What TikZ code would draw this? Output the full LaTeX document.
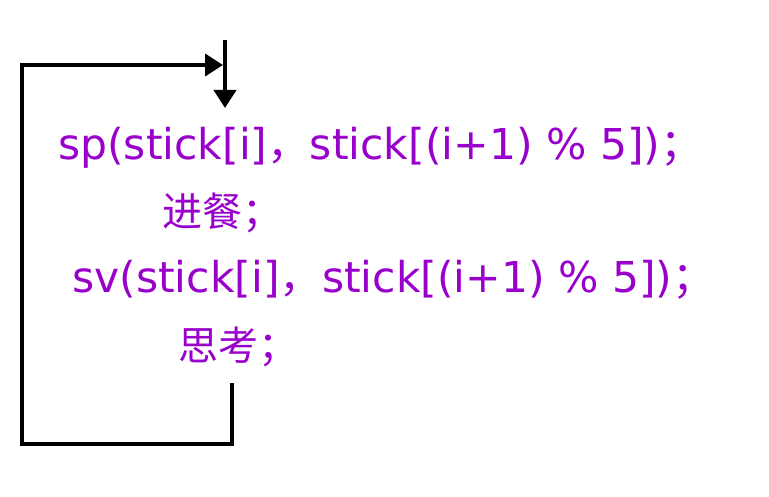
\documentclass[tikz,border=0pt]{standalone}
\usepackage{fontspec}
\setmainfont{DejaVu Sans}
\newfontfamily\cjk{Noto Sans CJK SC}
\usetikzlibrary{arrows.meta}
\definecolor{codepurple}{RGB}{153,0,204}

\begin{document}
\begin{tikzpicture}[x=1pt, y=-1pt,
  code/.style={anchor=base west, inner sep=0pt, text=codepurple,
    font=\fontsize{42.5}{50}\selectfont},
  cn/.style={anchor=base west, inner sep=0pt, text=codepurple,
    font=\cjk\fontsize{40}{46}\selectfont},
  flow/.style={line width=4pt, line join=miter,
    -{Triangle[length=18pt, width=22pt]}}]
  \useasboundingbox (0,0) rectangle (769,497);

  % the four statements of the philosopher
  \node [code] (take) at (58,160) {sp(stick[i]{\cjk ，}stick[(i+1) \% 5]){\cjk ；}};
  \node [cn] (eat) at (162,227) {进餐；};
  \node [code] (put) at (72,293) {sv(stick[i]{\cjk ，}stick[(i+1) \% 5]){\cjk ；}};
  \node [cn] (think) at (178,360) {思考；};

  % back to the start
  \coordinate (in) at (225,40);
  \coordinate (top) at (225,108);
  \coordinate (out) at (232,383);
  \draw [flow] (in) to (top);
  \draw [flow] (out) -- (232,444) -- (22,444) -- (22,65) -- (223,65);

\end{tikzpicture}
\end{document}
